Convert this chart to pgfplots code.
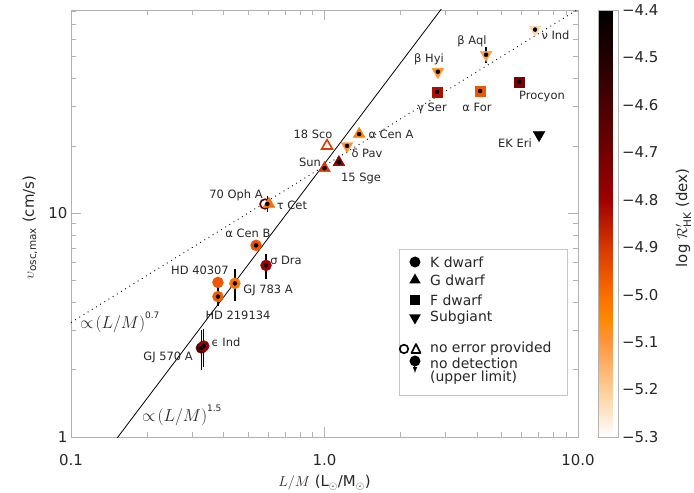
\documentclass[border=0pt]{standalone}
\usepackage{fontspec}
\setmainfont{DejaVu Sans}
\usepackage{pgfplots}
\pgfplotsset{compat=1.18}
\pgfplotsset{colormap={hotr}{rgb255(0)=(255,255,255) rgb255(1)=(255,205,150) rgb255(2)=(255,150,60) rgb255(2.5)=(255,135,0) rgb255(3)=(250,110,0) rgb255(4)=(215,55,0) rgb255(5)=(160,0,0) rgb255(6)=(115,0,0) rgb255(7)=(75,0,0) rgb255(8)=(35,0,0) rgb255(9)=(0,0,0)}}
\begin{document}
\begin{tikzpicture}
\path[use as bounding box] (-71bp,-56bp) rectangle (623bp,437bp);
\begin{axis}[
  scale only axis, width=507bp, height=427bp,
  xmode=log, ymode=log, xmin=0.1, xmax=10, ymin=1, ymax=81,
  xtick={0.1,1,10}, xticklabels={0.1,1.0,10.0},
  ytick={1,10}, yticklabels={1,10},
  minor xtick={0.2,0.3,0.4,0.5,0.6,0.7,0.8,0.9,2,3,4,5,6,7,8,9},
  minor ytick={2,3,4,5,6,7,8,9,20,30,40,50,60,70,80},
  tick align=inside, major tick length=10bp, minor tick length=5bp,
  axis line style={gray!60, line width=0.8bp},
  every tick/.style={gray!60, line width=0.8bp},
  tick label style={font=\fontsize{15}{17}\selectfont, text=black!85},
  xticklabel style={yshift=-14bp},
  xlabel={$L/M$ (L$_\odot$/M$_\odot$)},
  ylabel={$\upsilon$\textsubscript{osc,max} (cm/s)},
  label style={font=\fontsize{15}{17}\selectfont, text=black!85},
  xlabel style={at={(axis description cs:0.5,-0.108)}, anchor=center},
  ylabel style={at={(axis description cs:-0.081,0.49)}, anchor=center},
  point meta min=-5.3, point meta max=-4.4, colormap name=hotr,
  colorbar,
  colorbar style={width=20bp, at={(parent axis.north east)}, anchor=north west, xshift=12bp,
    ytick={-5.3,-5.2,-5.1,-5.0,-4.9,-4.8,-4.7,-4.6,-4.5,-4.4},
    yticklabels={−5.3,−5.2,−5.1,−5.0,−4.9,−4.8,−4.7,−4.6,−4.5,−4.4},
    yticklabel style={font=\fontsize{15}{17}\selectfont, text=black!85},
    major tick length=0pt, axis line style={gray!60},
    ylabel={log $\mathcal{R}'_{\mathrm{HK}}$ (dex)},
    ylabel style={font=\fontsize{15}{17}\selectfont, text=black!85, at={(axis description cs:4.25,0.513)}, anchor=center}},
]
% K dwarfs (circles)
\addplot[scatter, only marks, mark=*, mark size=5.5bp, point meta=explicit,
  scatter/use mapped color={draw=mapped color, fill=mapped color}] table[meta=c] {
x y c
0.537 7.19 -4.95
0.588 5.85 -4.79
0.380 4.91 -4.96
0.443 4.86 -5.01
0.380 4.24 -4.97
0.327 2.50 -4.62
0.334 2.55 -4.76
};
% K dwarf, no error provided (open circle)
\addplot[scatter, only marks, mark=*, mark size=4.8bp, point meta=explicit,
  mark options={line width=1.6bp},
  scatter/use mapped color={draw=mapped color, fill=white}] table[meta=c] {
x y c
0.582 11.0 -4.65
};
% G dwarfs (triangles)
\addplot[scatter, only marks, mark=triangle*, mark size=6.8bp, point meta=explicit,
  scatter/use mapped color={draw=mapped color, fill=mapped color}] table[meta=c] {
x y c
1.00 15.9 -4.90
1.14 16.9 -4.75
1.37 22.6 -5.04
0.604 11.0 -5.00
};
% G dwarf, no error provided (open triangle)
\addplot[scatter, only marks, mark=triangle*, mark size=6.2bp, point meta=explicit,
  mark options={line width=1.6bp},
  scatter/use mapped color={draw=mapped color, fill=white}] table[meta=c] {
x y c
1.023 20.0 -4.91
};
% F dwarfs (squares)
\addplot[scatter, only marks, mark=square*, mark size=5bp, point meta=explicit,
  scatter/use mapped color={draw=mapped color, fill=mapped color}] table[meta=c] {
x y c
2.78 34.9 -4.83
4.11 35.2 -4.96
5.85 38.7 -4.72
};
% Subgiants (down triangles)
\addplot[scatter, only marks, mark=triangle*, mark size=6.8bp, mark options={rotate=180}, point meta=explicit,
  scatter/use mapped color={draw=mapped color, fill=mapped color}] table[meta=c] {
x y c
2.80 42.9 -5.08
4.34 51.1 -5.12
6.77 66.2 -5.22
1.227 20.0 -5.09
7.02 22.4 -4.40
};
% error bars
\addplot[only marks, mark=none,
  error bars/.cd, y dir=both, y explicit, error mark=none,
  error bar style={black, line width=1.3bp}] table[y error=e] {
x y e
4.34 51.1 4.2
0.595 11.0 0.9
0.588 5.85 0.75
0.443 4.86 0.8
0.380 4.24 0.38
0.327 2.50 0.5
0.334 2.55 0.5
1.14 16.9 0.6
1.00 15.9 0.3
1.227 20.0 0.7
5.85 38.7 1.8
4.11 35.2 0.9
2.78 34.9 1.6
2.80 42.9 0.3
6.77 66.2 0.4
0.537 7.19 0.08
1.37 22.6 0.3
};
% upper limit arrow
\addplot[black, line width=1bp, -latex] coordinates {(0.380,4.91) (0.380,4.5)};
% scaling relations
\addplot[black, line width=0.8bp] coordinates {(0.1,0.528) (3.5,109)};
\addplot[black, line width=0.9bp, dash pattern=on 0.9bp off 4bp] coordinates {(0.1,3.25) (10,81.6)};
\end{axis}
\begin{scope}[shift={(-71bp,437bp)}, x=1bp, y=-1bp, font=\fontsize{11.5}{13}\selectfont, text=black!85]
% legend
\draw[gray!45, fill=white, line width=0.8bp] (399,249) rectangle (567,395);
\begin{scope}[font=\fontsize{14}{16}\selectfont]
\fill[black] (415,262) circle (5.5bp);
\node[anchor=west, inner sep=0pt] at (430,262) {K dwarf};
\fill[black] (415,273.5) -- (409.2,283.5) -- (420.8,283.5) -- cycle;
\node[anchor=west, inner sep=0pt] at (430,280) {G dwarf};
\fill[black] (410,295) rectangle (420,305);
\node[anchor=west, inner sep=0pt] at (430,300) {F dwarf};
\fill[black] (415,324.5) -- (409.2,314.5) -- (420.8,314.5) -- cycle;
\node[anchor=west, inner sep=0pt] at (430,318) {Subgiant};
\draw[black, line width=1.6bp] (404,349) circle (4.3bp);
\draw[black, line width=1.6bp, line join=round] (416,344) -- (411.5,353) -- (420.5,353) -- cycle;
\node[anchor=west, inner sep=0pt] at (430,349) {no error provided};
\fill[black] (415,361) circle (5.5bp);
\draw[black, line width=1bp, -latex] (415,364) -- (415,373);
\node[anchor=west, inner sep=0pt] at (430,363) {no detection};
\node[anchor=west, inner sep=0pt] at (430,378) {(upper limit)};
\end{scope}
% star labels
\node at (472,41) {β Aql};
\node at (429,59) {β Hyi};
\node[anchor=west] at (538,35) {ν Ind};
\node at (432,108) {γ Ser};
\node at (477,107) {α For};
\node at (542,97) {Procyon};
\node at (515,143) {EK Eri};
\node[anchor=west] at (365,134) {α Cen A};
\node at (313,134) {18 Sco};
\node at (367,153) {δ Pav};
\node at (310,162) {Sun};
\node at (361,178) {15 Sge};
\node at (236,195) {70 Oph A};
\node at (292,205) {τ Cet};
\node at (248,233) {α Cen B};
\node at (286,260) {σ Dra};
\node at (200,270) {HD 40307};
\node at (268,290) {GJ 783 A};
\node at (238,315) {HD 219134};
\node at (226,342) {ϵ Ind};
\node at (168,357) {GJ 570 A};
\node[anchor=west, inner sep=0pt] at (80,322) {\fontsize{19}{21}\selectfont$\propto\!(L/M)$\raisebox{10bp}{\fontsize{9}{10}\selectfont 0.7}};
\node[anchor=west, inner sep=0pt] at (142,415) {\fontsize{19}{21}\selectfont$\propto\!(L/M)$\raisebox{10bp}{\fontsize{9}{10}\selectfont 1.5}};
\end{scope}
\end{tikzpicture}
\end{document}
